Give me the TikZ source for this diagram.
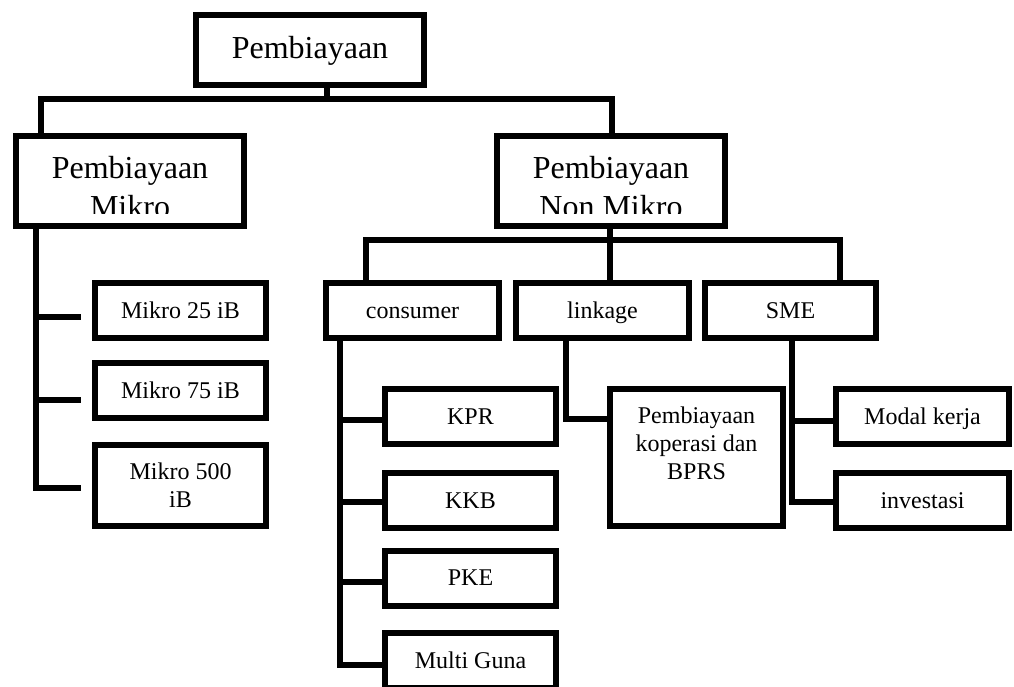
\documentclass[tikz,border=0pt]{standalone}
\usepackage{fontspec}
\setmainfont{Liberation Serif}
\begin{document}
\begin{tikzpicture}[x=1pt,y=-1pt,
  box/.style={draw=black, line width=6pt, inner sep=0pt},
  conn/.style={draw=black, line width=6pt, line join=miter},
  bigtxt/.style={font=\fontsize{32}{39.5}\selectfont},
  smalltxt/.style={font=\fontsize{24}{28}\selectfont},
  sbox/.style={box, smalltxt, minimum width=171pt, minimum height=55pt, text height=17pt, text depth=2pt},
  lbox/.style={box, minimum width=228pt, minimum height=90pt},
  ltxt/.style={bigtxt, align=center, anchor=north, inner sep=0pt}
]
\useasboundingbox (0,0) rectangle (1014,686);
\fill[white] (0,0) rectangle (1014,686);

% ---- nodes ----
\node[box, bigtxt, text height=22pt, text depth=5.4pt, minimum width=228pt, minimum height=70pt] (top) at (310,50) {Pembiayaan};
\node[lbox] (mikro) at (130,181) {};
\node[lbox] (nonmikro) at (611,181) {};
\begin{scope}
  \clip (0,136) rectangle (1014,213.3);
  \node[ltxt] (mikro-t) at (130,155.8) {Pembiayaan\\Mikro};
  \node[ltxt] (nonmikro-t) at (611,155.8) {Pembiayaan\\Non Mikro};
\end{scope}

\node[sbox] (m25) at (180.5,310.5) {Mikro 25 iB};
\node[sbox] (m75) at (180.5,390.5) {Mikro 75 iB};
\node[box, smalltxt, align=center, minimum width=171pt, minimum height=81pt] (m500) at (180.5,485.5) {Mikro 500\\iB};

\node[sbox, minimum width=173pt] (consumer) at (412.5,310.5) {consumer};
\node[sbox, minimum width=173pt] (linkage) at (602.5,310.5) {linkage};
\node[sbox] (sme) at (790.5,310.5) {SME};

\node[sbox] (kpr) at (470.5,416.5) {KPR};
\node[sbox] (kkb) at (470.5,500.5) {KKB};
\node[sbox] (pke) at (470.5,578) {PKE};
\node[sbox] (multi) at (470.5,660.5) {Multi Guna};

\node[box, minimum width=173pt, minimum height=137pt] (kop) at (696.5,457.5) {};
\node[smalltxt, align=center, anchor=north, inner sep=0pt] (kop-t) at (696.5,406.6) {Pembiayaan\\koperasi dan\\BPRS};

\node[sbox, minimum width=173pt] (modal) at (922.5,416.5) {Modal kerja};
\node[sbox, minimum width=173pt] (invest) at (922.5,500.5) {investasi};

% ---- connectors: level 1 ----
\coordinate (j0) at (327,99);
\coordinate (jL) at (41,99);
\coordinate (jR) at (612,99);
\draw[conn] (top.south -| j0) -- (j0);
\draw[conn] (mikro.north -| jL) |- (jR) -- (nonmikro.north -| jR);

% ---- mikro branch ----
\coordinate (vM) at (36,0);
\coordinate (m25in) at ([yshift=-6.5pt]m25.west);
\coordinate (m75in) at ([yshift=-9.5pt]m75.west);
\coordinate (m500in) at ([yshift=-2.5pt]m500.west);
\draw[conn, shorten >=11pt] (mikro.south -| vM) |- (m500in);
\draw[conn, shorten >=11pt] (m25in -| vM) -- (m25in);
\draw[conn, shorten >=11pt] (m75in -| vM) -- (m75in);

% ---- level 2 ----
\coordinate (kL) at (366,240);
\coordinate (kM) at (610,240);
\coordinate (kR) at (840,240);
\draw[conn] (nonmikro.south -| kM) -- (linkage.north -| kM);
\draw[conn] (consumer.north -| kL) |- (kR) -- (sme.north -| kR);

% ---- consumer branch ----
\coordinate (vC) at (340,0);
\coordinate (kprin) at ([yshift=-3.5pt]kpr.west);
\coordinate (kkbin) at ([yshift=-1.5pt]kkb.west);
\coordinate (pkein) at ([yshift=-4pt]pke.west);
\coordinate (multiin) at ([yshift=-4.5pt]multi.west);
\draw[conn] (consumer.south -| vC) |- (multiin);
\draw[conn] (kprin -| vC) -- (kprin);
\draw[conn] (kkbin -| vC) -- (kkbin);
\draw[conn] (pkein -| vC) -- (pkein);

% ---- linkage branch ----
\coordinate (vL) at (566,419);
\draw[conn] (linkage.south -| vL) |- (kop.west |- vL);

% ---- SME branch ----
\coordinate (vS) at (792,0);
\coordinate (modalin) at ([yshift=-4.5pt]modal.west);
\coordinate (investin) at ([yshift=-1.5pt]invest.west);
\draw[conn] (sme.south -| vS) |- (investin);
\draw[conn] (modalin -| vS) -- (modalin);
\end{tikzpicture}
\end{document}
